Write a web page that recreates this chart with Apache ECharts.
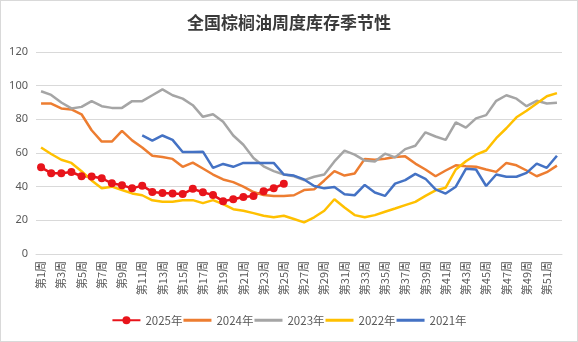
<!DOCTYPE html>
<html>
<head>
<meta charset="utf-8">
<script src="https://cdn.jsdelivr.net/npm/echarts@6/dist/echarts.min.js"></script>
<style>
html,body{margin:0;padding:0;background:#fff;}
#c{width:578px;height:342px;box-sizing:border-box;border:1px solid #d9d9d9;}
</style>
</head>
<body>
<div id="c"></div>
<script>
const weeks = [];
for (let i = 1; i <= 52; i++) weeks.push('第' + i + '周');

const s2025 = [51.5, 48, 48, 48.7, 46.2, 46, 45, 42, 40.9, 39, 40.6, 36.9, 36.2, 36, 35.6, 38.7, 36.7, 35, 31.4, 32.5, 33.9, 34.5, 37.3, 39, 41.8];
const s2024 = [89.4, 89.4, 86.5, 85.9, 83, 73.5, 66.8, 66.8, 73.1, 67.5, 63.3, 58.4, 57.6, 56.5, 51.8, 54.3, 50.8, 47.2, 44.3, 42.7, 40, 36.8, 35, 34.5, 34.5, 34.9, 38, 38.4, 43.7, 49.2, 46.6, 47.8, 56.5, 56, 56.6, 57.6, 58, 53.7, 50.2, 46.2, 49.6, 52.7, 52.1, 51.8, 50.2, 48.8, 54.1, 52.7, 49.6, 46.2, 48.6, 52.5];
const s2023 = [96.7, 94.5, 90, 86.5, 87.4, 90.8, 87.8, 86.8, 86.8, 90.8, 90.8, 94.3, 97.8, 94.3, 92.3, 88.4, 81.5, 83, 78.6, 70.4, 64.9, 57, 52.1, 49.2, 47.2, 46.2, 43.9, 45.9, 47.2, 55, 61.4, 59, 55.5, 55, 59.6, 57.4, 62.3, 64.3, 72.3, 69.8, 67.8, 78.2, 75.1, 80.6, 82.5, 91, 94.3, 92.3, 87.8, 91, 89.4, 89.8];
const s2022 = [63.3, 59.4, 56, 54.1, 49.2, 43.7, 39, 40, 38, 36, 34.9, 31.9, 31, 31, 31.9, 32, 30.2, 32, 29.6, 26.6, 25.7, 24.3, 22.7, 21.8, 22.7, 20.8, 18.8, 21.8, 25.7, 32.5, 27.6, 23.1, 21.8, 23.1, 25.1, 27, 29, 31, 34.5, 37.8, 39.4, 50.2, 55.1, 59, 61.5, 68.8, 74.7, 81.2, 85.1, 89.4, 93.7, 95.6];
const s2021 = [null, null, null, null, null, null, null, null, null, null, 70.4, 67.4, 70.4, 67.8, 60.6, 60.6, 60.8, 51.2, 53.5, 51.8, 54.1, 54.1, 54.1, 54.1, 47.2, 46.6, 44.3, 40.4, 39, 39.8, 35.5, 34.9, 41, 36.5, 34.5, 41.8, 43.9, 47.6, 44.7, 38.4, 35.9, 40, 50.6, 50.2, 40.4, 47.2, 45.9, 45.9, 48.2, 53.7, 51.2, 58.4];

const yTicks = [0, 20, 40, 60, 80, 100, 120];

const lineIcon = 'path://M0,0L0.01,0L0.01,0.01Z M0,3.6L28,3.6L28,6.4L0,6.4Z M27.99,10L28,10L28,9.99Z';

const chart = echarts.init(document.getElementById('c'));
const lineSeries = (name, data, color) => ({
  name, type: 'line', data, symbol: 'none', showSymbol: false,
  lineStyle: { color, width: 2.5 }, itemStyle: { color },
  connectNulls: false, animation: false
});
chart.setOption({
  animation: false,
  title: {
    text: '全国棕榈油周度库存季节性',
    left: 'center', top: 8,
    textStyle: { fontFamily: 'Noto Sans CJK SC', fontWeight: 'bold', fontSize: 17, color: '#3a3a3a' }
  },
  grid: { left: 35, right: 15, top: 51, bottom: 87, containLabel: false },
  legend: {
    bottom: 10, left: 'center', itemWidth: 28, itemHeight: 10, itemGap: 1,
    textStyle: { color: '#595959', fontSize: 11.5, fontFamily: 'Noto Sans CJK SC' },
    data: [
      { name: '2025年' },
      { name: '2024年', icon: lineIcon },
      { name: '2023年', icon: lineIcon },
      { name: '2022年', icon: lineIcon },
      { name: '2021年', icon: lineIcon }
    ]
  },
  xAxis: {
    type: 'category', data: weeks, boundaryGap: true,
    axisLine: { lineStyle: { color: '#d9d9d9' } },
    axisTick: { show: false },
    axisLabel: { interval: 1, rotate: 90, color: '#595959', fontSize: 11, margin: 7, fontFamily: 'Noto Sans CJK SC' }
  },
  yAxis: {
    type: 'value', min: yTicks[0], max: yTicks[yTicks.length - 1], interval: 20,
    axisLine: { show: false }, axisTick: { show: false },
    splitLine: { lineStyle: { color: '#d9d9d9' } },
    axisLabel: { color: '#595959', fontSize: 11, margin: 8, fontFamily: 'Noto Sans' }
  },
  series: [
    {
      name: '2025年', type: 'line', data: s2025, symbol: 'circle', symbolSize: 8,
      showSymbol: true, showAllSymbol: true,
      lineStyle: { color: '#e8141b', width: 2.5 }, itemStyle: { color: '#e8141b' }
    },
    lineSeries('2024年', s2024, '#ed7d31'),
    lineSeries('2023年', s2023, '#a5a5a5'),
    lineSeries('2022年', s2022, '#ffc000'),
    lineSeries('2021年', s2021, '#4472c4')
  ]
});
</script>
</body>
</html>
